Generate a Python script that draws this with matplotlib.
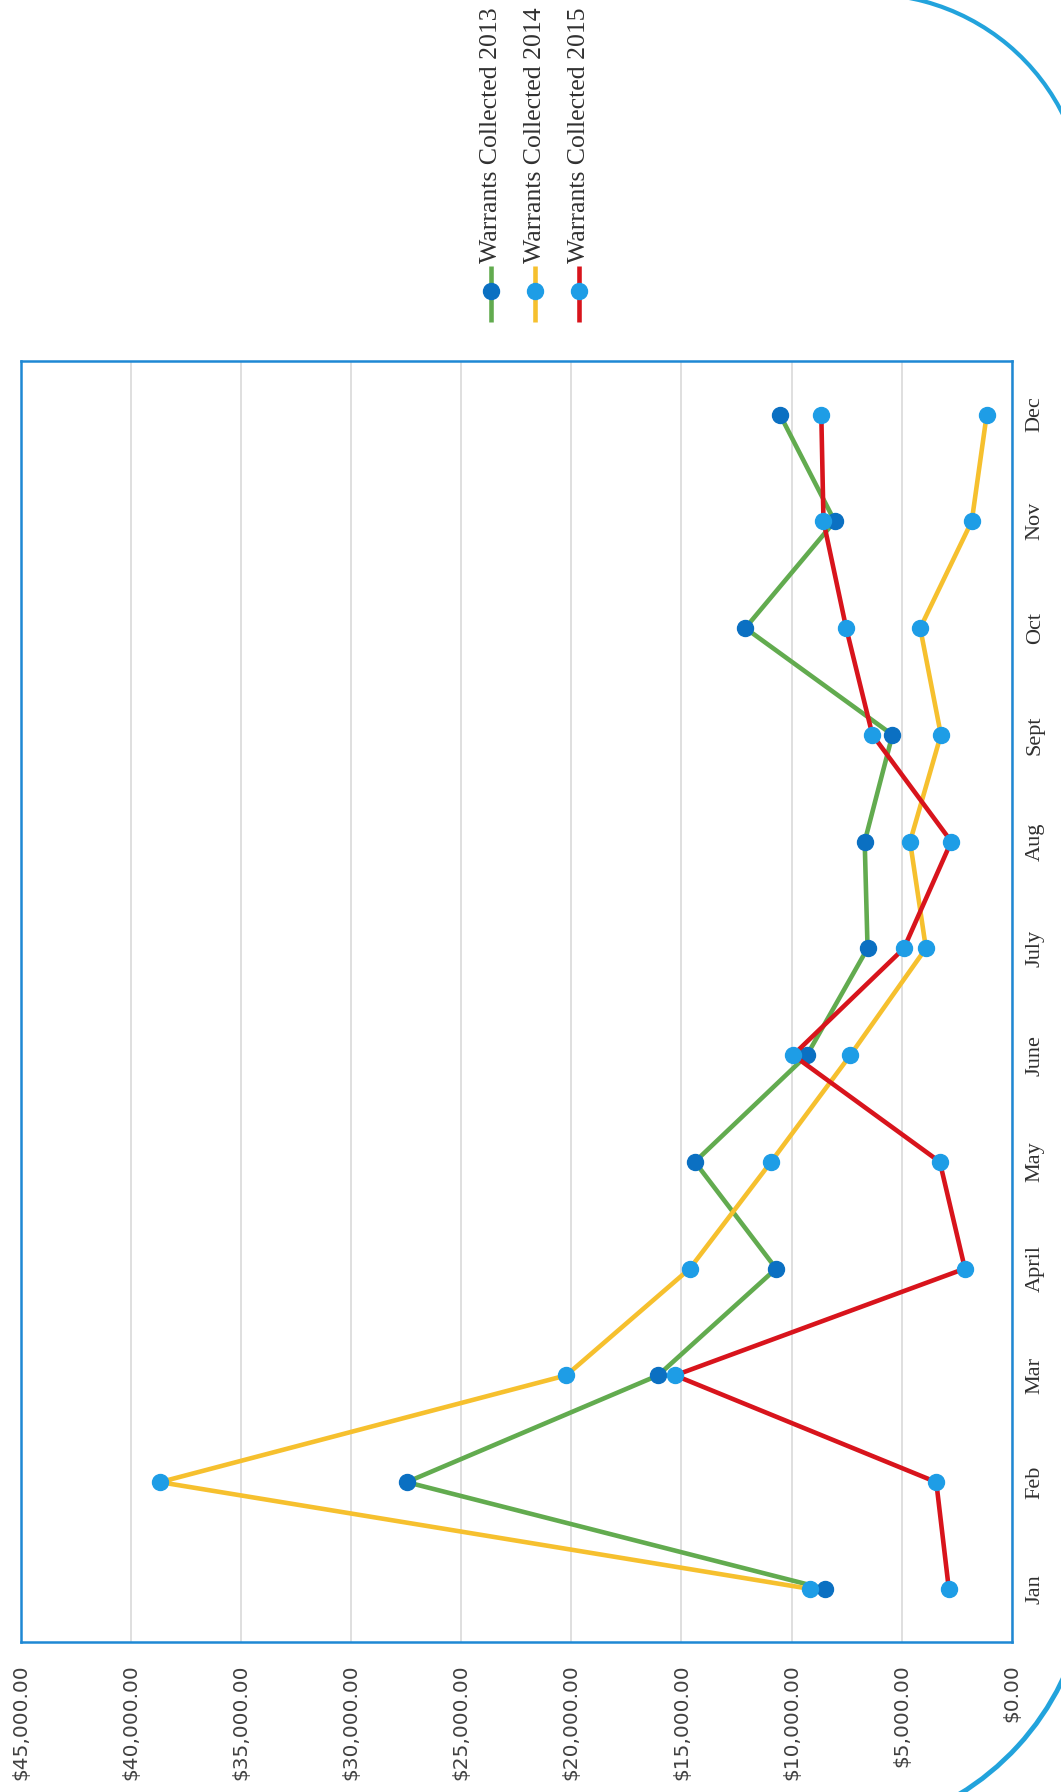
import numpy as np
import matplotlib
matplotlib.use("Agg")
import matplotlib.pyplot as plt
from matplotlib.patches import Arc

# data
months = ['Jan', 'Feb', 'Mar', 'April', 'May', 'June',
          'July', 'Aug', 'Sept', 'Oct', 'Nov', 'Dec']
w2013 = [8470, 27470, 16060, 10700, 14390, 9300, 6550, 6680, 5420, 12100, 8040, 10530]
w2014 = [9150, 38670, 20230, 14620, 10930, 7330, 3900, 4620, 3220, 4160, 1820, 1140]
w2015 = [2860, 3430, 15290, 2130, 3270, 9930, 4900, 2750, 6330, 7520, 8550, 8650]
series_names = ['Warrants Collected 2013', 'Warrants Collected 2014', 'Warrants Collected 2015']
value_ticks = list(range(0, 45001, 5000))

line_colors = ['#62ab4f', '#f6c02e', '#d8141c']
marker_colors = ['#0b70c2', '#1e9de6', '#1e9de6']
frame_blue = '#1e88d4'
serif = ['Liberation Serif', 'DejaVu Serif']

W, H = 1061, 1792
fig = plt.figure(figsize=(W / 100, H / 100), dpi=100)
fig.patch.set_facecolor('white')

# page overlay in pixel coords (decoration + legend)
ov = fig.add_axes([0, 0, 1, 1])
ov.set_xlim(0, W)
ov.set_ylim(H, 0)
ov.axis('off')

# rounded page border pieces
ov.add_patch(Arc((868, 212), 436, 436, theta1=-100, theta2=0,
                 color='#22a3dc', lw=3))
ov.add_patch(Arc((818, 1563), 542, 542, theta1=10, theta2=75,
                 color='#22a3dc', lw=3.5))

# chart (drawn rotated: values across, months up)
ax = fig.add_axes([18 / 928, 1 - 1437 / 1568, (885 - 18) / 928, (1437 - 316) / 1568])
y = np.arange(len(months))
for vals, name, lc, mc in zip([w2013, w2014, w2015], series_names, line_colors, marker_colors):
    ax.plot(vals, y, color=lc, lw=3.3, marker='o', markersize=11.5,
            markerfacecolor=mc, markeredgecolor=mc, label=name, zorder=3)

ax.set_xlim(45000, 0)
ax.set_ylim(-0.5, 11.5)
ax.set_xticks(value_ticks)
ax.set_xticklabels([f'${v:,.2f}' for v in value_ticks], rotation=90,
                   va='top', ha='center', fontsize=14.5, color='#404040',
                   family='DejaVu Sans')
ax.set_yticks(y)
ax.yaxis.tick_right()
ax.set_yticklabels(months, rotation=90, va='center', fontsize=16,
                   color='#303030', family=serif)
ax.tick_params(axis='x', length=0, pad=16)
ax.tick_params(axis='y', length=0, pad=10)
ax.grid(axis='x', color='#d9d9d9', lw=1.2)
ax.set_axisbelow(True)
for sp in ax.spines.values():
    sp.set_color(frame_blue)
    sp.set_linewidth(1.8)

# legend, rotated like the chart
for i, (name, lc, mc) in enumerate(zip(series_names, line_colors, marker_colors)):
    lx = [491, 535, 579][i]
    ov.plot([lx, lx], [266, 322], color=lc, lw=3.3, solid_capstyle='butt')
    ov.plot([lx], [291], marker='o', markersize=11.5, color=mc)
    ov.text(lx, 263, name, rotation=90, ha='center', va='bottom',
            fontsize=18.5, color='#303030', family=serif)

fig.savefig('out.png', dpi=100)
